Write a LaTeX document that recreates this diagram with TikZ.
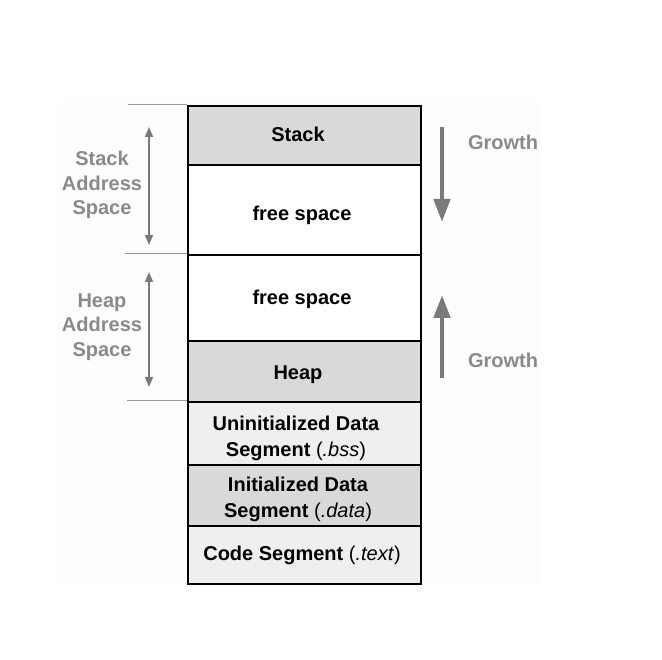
\documentclass[tikz,border=0pt]{standalone}
\usepackage{fontspec}
\setmainfont{Liberation Sans}
\usetikzlibrary{arrows.meta}
\definecolor{segdark}{HTML}{D9D9D9}
\definecolor{seglight}{HTML}{EFEFEF}
\definecolor{labgray}{HTML}{8A8A8A}
\definecolor{arrgray}{HTML}{7A7A7A}
\definecolor{guidegray}{HTML}{9A9A9A}
\definecolor{panel}{HTML}{FDFDFD}
\begin{document}
\begin{tikzpicture}[x=1pt,y=-1pt,
  seg/.style={draw=black, line width=1.8pt, minimum width=233pt, inner sep=0pt,
    anchor=north west},
  segtext/.style={align=center, inner sep=0pt, text=black,
    font=\fontsize{20}{26}\selectfont\bfseries},
  sidelabel/.style={align=center, text=labgray, inner sep=0pt,
    font=\fontsize{20}{24.5}\selectfont\bfseries},
  guide/.style={draw=guidegray, line width=1pt},
  dblarrow/.style={draw=arrgray, line width=1.6pt,
    {Triangle[length=10pt,width=8pt]}-{Triangle[length=10pt,width=8pt]}},
  growarrow/.style={draw=arrgray, line width=4.5pt,
    -{Triangle[length=23pt,width=16pt]}},
]
\useasboundingbox (0,0) rectangle (662,660);
\fill[panel] (60,102) rectangle (541,584);

% memory segments
\node[seg, fill=segdark,  minimum height=59pt] (stack)  at (187,105) {};
\node[seg, fill=white,    minimum height=90pt] (free1)  at (187,164) {};
\node[seg, fill=white,    minimum height=86pt] (free2)  at (187,254) {};
\node[seg, fill=segdark,  minimum height=61pt] (heap)   at (187,340) {};
\node[seg, fill=seglight, minimum height=63pt] (uninit) at (187,401) {};
\node[seg, fill=segdark,  minimum height=61pt] (init)   at (187,464) {};
\node[seg, fill=seglight, minimum height=58pt] (code)   at (187,525) {};

% segment texts
\node[segtext] (stacktxt)  at (298,134) {Stack};
\node[segtext] (free1txt)  at (302,215) {free space};
\node[segtext] (free2txt)  at (302,299) {free space};
\node[segtext] (heaptxt)   at (298,375) {Heap};
\node[segtext] (uninittxt) at (296,438) {Uninitialized Data\\Segment {\mdseries(\textit{.bss})}};
\node[segtext] (inittxt)   at (298,499) {Initialized Data\\Segment {\mdseries(\textit{.data})}};
\node[segtext] (codetxt)   at (302,555) {Code Segment {\mdseries(\textit{.text})}};

% guide lines on the left
\coordinate (g1) at (128,105);
\coordinate (g2) at (125,254);
\coordinate (g3) at (127,401);
\coordinate (g2r) at (423,254);
\draw[guide] (g1) -- (stack.north west);
\draw[guide] (g2) -- (free2.north west);
\draw[guide] (free2.north east) -- (g2r);
\draw[guide] (g3) -- (uninit.north west);

% address-space arrows and labels
\coordinate (sa1) at (149,127);
\coordinate (sa2) at (149,245);
\coordinate (ha1) at (149,272);
\coordinate (ha2) at (149,387);
\draw[dblarrow] (sa1) -- (sa2);
\draw[dblarrow] (ha1) -- (ha2);
\node[sidelabel] (stacklab) at (102,185) {Stack\\Address\\Space};
\node[sidelabel] (heaplab)  at (102,327) {Heap\\Address\\Space};

% growth arrows and labels
\coordinate (gs1) at (442,127);
\coordinate (gs2) at (442,222);
\coordinate (gh1) at (442,378);
\coordinate (gh2) at (442,295);
\draw[growarrow] (gs1) -- (gs2);
\draw[growarrow] (gh1) -- (gh2);
\node[sidelabel] (growtop) at (503,142) {Growth};
\node[sidelabel] (growbot) at (503,360) {Growth};
\end{tikzpicture}
\end{document}
